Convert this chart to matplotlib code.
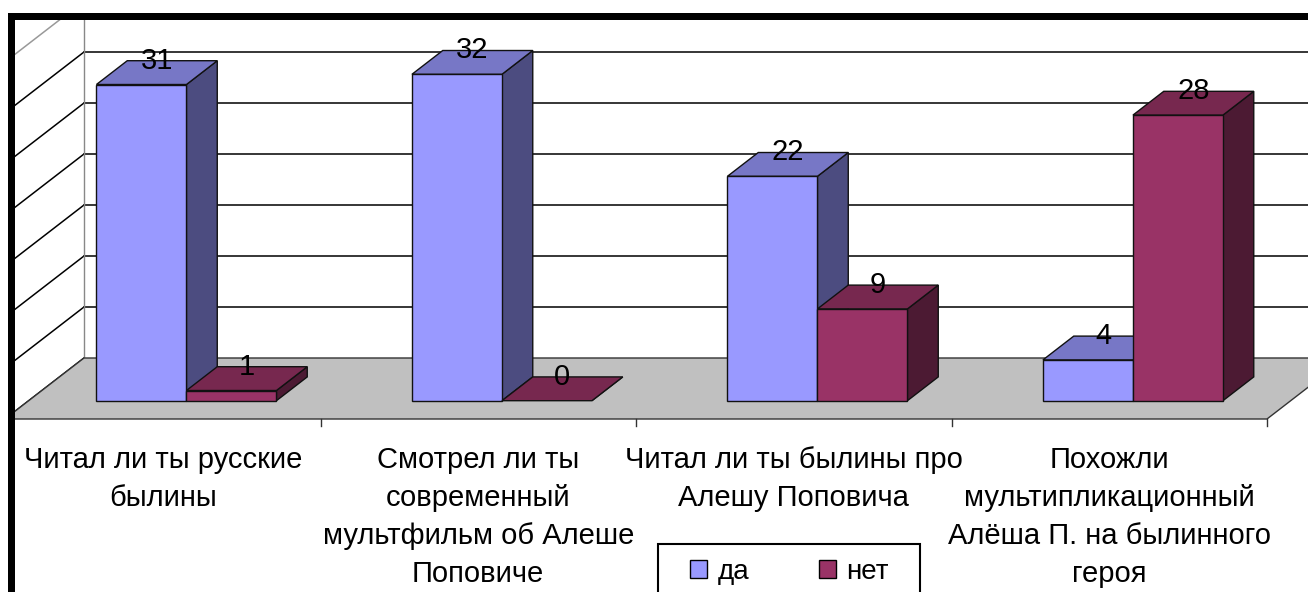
import matplotlib
matplotlib.use('Agg')
import matplotlib.pyplot as plt
from matplotlib import font_manager
from matplotlib.patches import Polygon, Rectangle

# data
categories = ['Читал ли ты русские\nбылины',
              'Смотрел ли ты\nсовременный\nмультфильм об Алеше\nПоповиче',
              'Читал ли ты былины про\nАлешу Поповича',
              'Похожли\nмультипликационный\nАлёша П. на былинного\nгероя']
series_names = ['да', 'нет']
yes_vals = [31, 32, 22, 4]
no_vals = [1, 0, 9, 28]
grid_ticks = [0, 5, 10, 15, 20, 25, 30, 35]

face_cols = ['#9999FF', '#993366']
top_cols = ['#7777C6', '#77284F']
side_cols = ['#4C4C80', '#4C1A33']

names = {f.name for f in font_manager.fontManager.ttflist}
FONT = 'Liberation Sans Narrow' if 'Liberation Sans Narrow' in names else 'Liberation Sans'
plt.rcParams['font.family'] = [FONT, 'DejaVu Sans']

W, H = 1308, 592
fig = plt.figure(figsize=(W / 100, H / 100), dpi=100)
ax = fig.add_axes([0, 0, 1, 1])
ax.set_xlim(0, W)
ax.set_ylim(H, 0)
ax.axis('off')

# pseudo-3d geometry (pixel space)
floor_x0 = 5          # front-left corner of floor
floor_y = 419         # front edge of floor
cat_w = 315.5
DX, DY = 79, -61      # full depth offset
back_x = floor_x0 + DX
back_y = floor_y + DY
px_per = 10.2
d_front = 0.30
d_bar = 0.39
bar_w = 90
n = len(categories)
floor_x1 = floor_x0 + n * cat_w


def vy(v, d):
    return floor_y + DY * d - v * px_per


# back wall gridlines and side wall lines
for t in grid_ticks:
    y = vy(t, 1.0)
    col = '#000000' if t < 35 else '#999999'
    if t > 0:
        ax.plot([back_x, W], [y, y], color=col, lw=1.1, zorder=1)
    ax.plot([back_x, floor_x0], [y, y - DY], color=col, lw=1.1, zorder=1)
ax.plot([back_x, back_x], [vy(0, 1.0), vy(35, 1.0)], color='#888888', lw=1.0, zorder=1)

# floor
ax.add_patch(Polygon([(floor_x0, floor_y), (floor_x1, floor_y),
                      (floor_x1 + DX, back_y), (back_x, back_y)],
                     closed=True, facecolor='#C0C0C0', edgecolor='#333333',
                     lw=1.0, zorder=2))
for k in range(1, n + 1):
    x = floor_x0 + k * cat_w
    ax.plot([x, x], [floor_y, floor_y + 7], color='#333333', lw=1.0, zorder=2)

# bars
for i in range(n):
    for s, vals in enumerate([yes_vals, no_vals]):
        v = vals[i]
        x0 = floor_x0 + i * cat_w + cat_w / 2 + DX * d_front + (s - 1) * bar_w
        x1 = x0 + bar_w
        yb = vy(0, d_front)
        yt = vy(v, d_front)
        ox, oy = DX * d_bar, DY * d_bar
        z = 3 + i * 2 + s
        ax.add_patch(Polygon([(x1, yb), (x1, yt), (x1 + ox, yt + oy), (x1 + ox, yb + oy)],
                             closed=True, facecolor=side_cols[s], edgecolor='#111111', lw=1.0, zorder=z))
        ax.add_patch(Polygon([(x0, yt), (x1, yt), (x1 + ox, yt + oy), (x0 + ox, yt + oy)],
                             closed=True, facecolor=top_cols[s], edgecolor='#111111', lw=1.0, zorder=z))
        if v > 0:
            ax.add_patch(Rectangle((x0, yt), bar_w, yb - yt, facecolor=face_cols[s],
                                   edgecolor='#111111', lw=1.0, zorder=z))
        ax.text((x0 + x1) / 2 + ox / 2, yt + oy / 2 + 2, str(v), ha='center', va='bottom',
                fontsize=21, color='black', zorder=20)

# category labels
for i, lab in enumerate(categories):
    ax.text(floor_x0 + i * cat_w + cat_w / 2, 446, lab, ha='center', va='top',
            fontsize=21, linespacing=1.45, zorder=20)

# legend (box drawn separately, runs off the bottom edge)
ax.add_patch(Rectangle((658, 544), 262, 70, facecolor='white', edgecolor='black',
                       lw=1.5, zorder=29))
handles = [Rectangle((0, 0), 1, 1, facecolor=face_cols[s], edgecolor='black', lw=1.0)
           for s in range(2)]
leg = ax.legend(handles, series_names, loc='upper left', ncol=2,
                bbox_to_anchor=(690 / W, 1 - 559 / H), bbox_transform=fig.transFigure,
                fontsize=20, frameon=False, handlelength=0.6, handleheight=0.6,
                handletextpad=0.4, columnspacing=2.5, borderpad=0, borderaxespad=0)
leg.set_zorder(30)

# outer black frame (clipped chart area)
ax.add_patch(Rectangle((0, 0), W, 13, facecolor='white', edgecolor='none', zorder=40))
ax.add_patch(Rectangle((0, 0), 8, H, facecolor='white', edgecolor='none', zorder=40))
ax.add_patch(Rectangle((8, 13), W, 7, facecolor='black', edgecolor='none', zorder=41))
ax.add_patch(Rectangle((8, 13), 7, H, facecolor='black', edgecolor='none', zorder=41))

fig.savefig('out.png', dpi=100)
